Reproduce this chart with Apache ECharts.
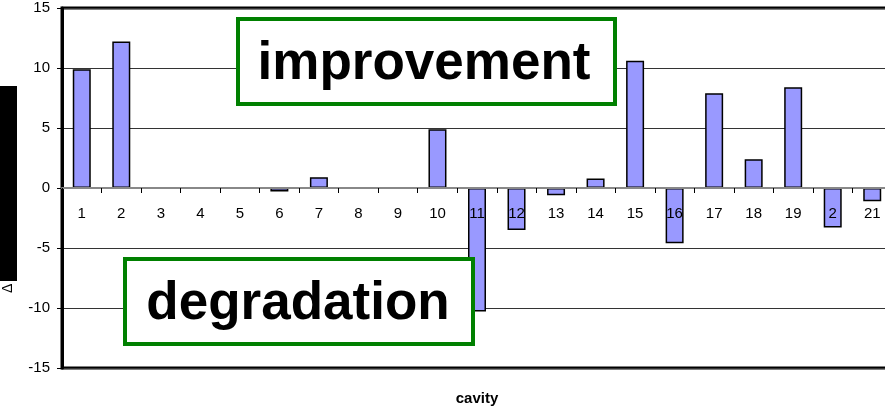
<!DOCTYPE html>
<html>
<head>
<meta charset="utf-8">
<script src="https://cdn.jsdelivr.net/npm/echarts@6/dist/echarts.min.js"></script>
<style>
  html, body { margin: 0; padding: 0; background: #fff; }
  #chart { width: 885px; height: 407px; }
</style>
</head>
<body>
<div id="chart"></div>
<script>
// cavity numbers (20 is shown cut to "2" in the original)
var cavities = ['1', '2', '3', '4', '5', '6', '7', '8', '9', '10', '11',
  '12', '13', '14', '15', '16', '17', '18', '19', '2', '21'];
var deltas = [9.9, 12.2, 0, 0, 0, -0.3, 0.9, 0, 0, 4.9, -10.3,
  -3.5, -0.6, 0.8, 10.6, -4.6, 7.9, 2.4, 8.4, -3.3, -1.1];
var yTicks = [-15, -10, -5, 0, 5, 10, 15];

var chart = echarts.init(document.getElementById('chart'));

// the plot runs from y=8 (15) to y=368 (-15); the category axis sits on 0
var plotTop = 8, plotBottom = 368;
var zeroOffset = (plotBottom - plotTop) / 2;

chart.setOption({
  animation: false,
  grid: {
    left: 62, right: -7, top: plotTop, bottom: 407 - plotBottom,
    containLabel: false, outerBoundsMode: 'none',
    show: true, borderColor: '#000', borderWidth: 3, backgroundColor: 'transparent'
  },
  xAxis: {
    type: 'category',
    data: cavities,
    z: 3,
    offset: -zeroOffset,
    name: 'cavity',
    nameLocation: 'middle',
    nameGap: 203,
    nameTextStyle: { fontFamily: 'Liberation Sans', fontWeight: 'bold', fontSize: 15, color: '#000' },
    axisLine: { onZero: false, lineStyle: { color: '#888', width: 2 } },
    axisTick: { show: true, length: 5, lineStyle: { color: '#000' } },
    axisLabel: { margin: 18, fontFamily: 'Liberation Sans', fontSize: 15, color: '#000', interval: 0 }
  },
  yAxis: {
    type: 'value',
    min: yTicks[0],
    max: yTicks[yTicks.length - 1],
    interval: 5,
    axisLine: { show: true, lineStyle: { color: '#000', width: 3 } },
    axisTick: { show: true, length: 5, lineStyle: { color: '#000' } },
    axisLabel: { margin: 12, fontFamily: 'Liberation Sans', fontSize: 15, color: '#000' },
    splitLine: { lineStyle: { color: '#333', width: 1 } }
  },
  series: [{
    type: 'bar',
    data: deltas,
    barWidth: 18,
    itemStyle: { color: '#9999ff', borderColor: '#000', borderWidth: 1.5 }
  }],
  graphic: [
    { type: 'rect', left: 0, top: 86, shape: { width: 17, height: 195 }, style: { fill: '#000' } },
    { type: 'text', x: 1, y: 293, rotation: Math.PI / 2,
      style: { text: 'Δ', font: '14px "Liberation Sans"', fill: '#000' } },
    { type: 'rect', z: 10, shape: { x: 238, y: 19, width: 377, height: 85 },
      style: { fill: '#fff', stroke: '#008000', lineWidth: 4 } },
    { type: 'text', z: 11, x: 424, y: 64,
      style: { text: 'improvement', font: 'bold 53px "Liberation Sans"', fill: '#000',
        textAlign: 'center', textVerticalAlign: 'middle' } },
    { type: 'rect', z: 10, shape: { x: 125, y: 259, width: 348, height: 85 },
      style: { fill: '#fff', stroke: '#008000', lineWidth: 4 } },
    { type: 'text', z: 11, x: 298, y: 304,
      style: { text: 'degradation', font: 'bold 53px "Liberation Sans"', fill: '#000',
        textAlign: 'center', textVerticalAlign: 'middle' } }
  ]
});
</script>
</body>
</html>
